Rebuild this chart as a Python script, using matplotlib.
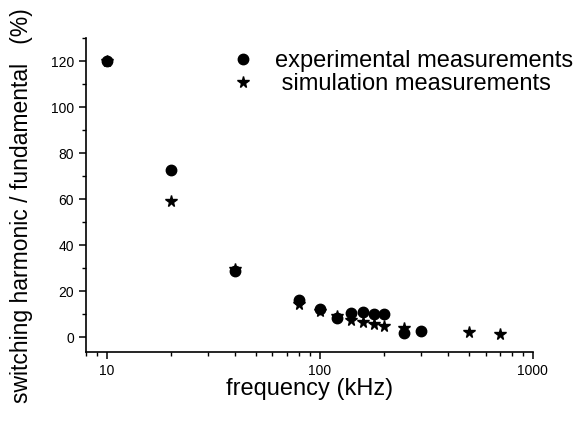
import numpy as np
import matplotlib.pyplot as plt
from matplotlib.ticker import MultipleLocator, LogLocator, NullFormatter

plt.rcParams['font.family'] = ['Liberation Sans', 'DejaVu Sans']

# experimental data
f_exp = [10, 20, 40, 80, 100, 120, 140, 160, 180, 200, 250, 300]
h_exp = [120, 72.5, 28.8, 16, 12.1, 8.5, 10.6, 11.1, 10.2, 9.9, 1.8, 2.8]

# simulation data
f_sim = [10, 20, 40, 80, 100, 120, 140, 160, 180, 200, 250, 500, 700]
h_sim = [120, 59.4, 29.5, 14.3, 11.4, 9.2, 7.7, 6.6, 5.8, 5.1, 3.9, 2.2, 1.5]

fig = plt.figure(figsize=(5.81, 4.29), dpi=100)
ax = fig.add_axes([0.148, 0.179, 0.769, 0.732])

ax.plot(f_exp, h_exp, 'o', color='black', markersize=7.5, label='experimental measurements')
ax.plot(f_sim, h_sim, '*', color='black', markersize=8.5, label=' simulation measurements')

ax.set_xscale('log')
ax.set_xlim(8, 1000)
ax.set_ylim(-6.5, 130)
ax.set_xticks([10, 100, 1000])
ax.set_xticklabels(['10', '100', '1000'])
ax.xaxis.set_minor_locator(LogLocator(base=10, subs=np.arange(2, 10)))
ax.xaxis.set_minor_formatter(NullFormatter())
ax.yaxis.set_major_locator(MultipleLocator(20))
ax.yaxis.set_minor_locator(MultipleLocator(10))

for s in ['top', 'right']:
    ax.spines[s].set_visible(False)
ax.spines['left'].set_linewidth(1.2)
ax.spines['bottom'].set_linewidth(1.2)
ax.tick_params(which='major', direction='out', length=5, width=1.1, labelsize=10)
ax.tick_params(which='minor', direction='out', length=3, width=1.0)

ax.set_xlabel('frequency (kHz)', fontsize=17, labelpad=0)
ax.set_ylabel('switching harmonic / fundamental   (%)', fontsize=16.5)
ax.yaxis.set_label_coords(-0.118, 0.468)

fig.legend(loc='upper left', bbox_to_anchor=(225 / 581, 1 - 50 / 429), frameon=False,
           fontsize=17, handletextpad=0.6, labelspacing=0.05, borderaxespad=0,
           borderpad=0, handlelength=1.5)

fig.savefig('out.png', dpi=100)
